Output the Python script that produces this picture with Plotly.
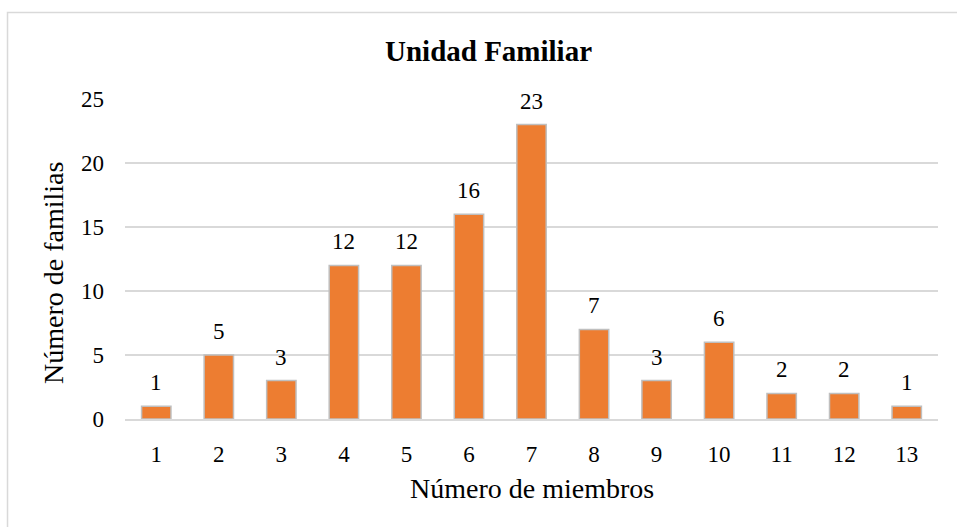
import plotly.graph_objects as go

# Number of members per household vs number of families
miembros = ["1", "2", "3", "4", "5", "6", "7", "8", "9", "10", "11", "12", "13"]
familias = [1, 5, 3, 12, 12, 16, 23, 7, 3, 6, 2, 2, 1]

FONT = "Liberation Serif, Times New Roman, serif"
GRID = "#D9D9D9"

fig = go.Figure()
fig.add_trace(go.Bar(
    x=miembros, y=familias, width=0.47,
    marker=dict(color="#ED7D31", line=dict(color="#BFBFBF", width=1.5)),
    hoverinfo="x+y", showlegend=False))

# data labels above each bar (x as category index)
for i, f in enumerate(familias):
    fig.add_annotation(x=i, y=f, text=str(f), showarrow=False, yanchor="bottom",
                       yshift=9, font=dict(family=FONT, size=23, color="#000"))

# chart title and axis titles (positioned like the Excel original)
fig.add_annotation(text="<b>Unidad Familiar</b>", xref="paper", yref="paper",
                   x=0.4465, y=1.15, xanchor="center", yanchor="middle",
                   showarrow=False, font=dict(family=FONT, size=29, color="#000"))
fig.add_annotation(text="Número de familias", xref="paper", yref="paper",
                   x=-0.0886, y=0.456, textangle=-90, xanchor="center",
                   yanchor="middle", showarrow=False,
                   font=dict(family=FONT, size=28, color="#000"))
fig.add_annotation(text="Número de miembros", xref="paper", yref="paper",
                   x=0.5, y=-0.216, xanchor="center", yanchor="middle",
                   showarrow=False, font=dict(family=FONT, size=28, color="#000"))

# outer chart-area border (runs off the right/bottom edge in the original)
fig.add_shape(type="rect", xref="paper", yref="paper", x0=-0.1445, x1=1.03,
              y0=-0.36, y1=1.2703, line=dict(color=GRID, width=1.5), layer="below")

fig.update_layout(
    width=957, height=527,
    margin=dict(l=125, r=19, t=99, b=108),
    plot_bgcolor="white", paper_bgcolor="white",
    font=dict(family=FONT, size=23, color="#000"),
    xaxis=dict(type="category", showgrid=False, showline=True, linecolor=GRID,
               linewidth=1.5, ticks="", ticklabelstandoff=14,
               tickfont=dict(family=FONT, size=23)),
    yaxis=dict(range=[0, 25], dtick=5, showgrid=True, gridcolor=GRID, gridwidth=1.5,
               zeroline=False, ticks="", ticklabelstandoff=20,
               tickfont=dict(family=FONT, size=23)),
)

# drop the default 8px page margin so the figure sits at the window origin
fig.write_html("out.html", config={"displayModeBar": False},
               post_script="document.body.style.margin='0';"
                           "document.body.style.overflow='hidden';")
